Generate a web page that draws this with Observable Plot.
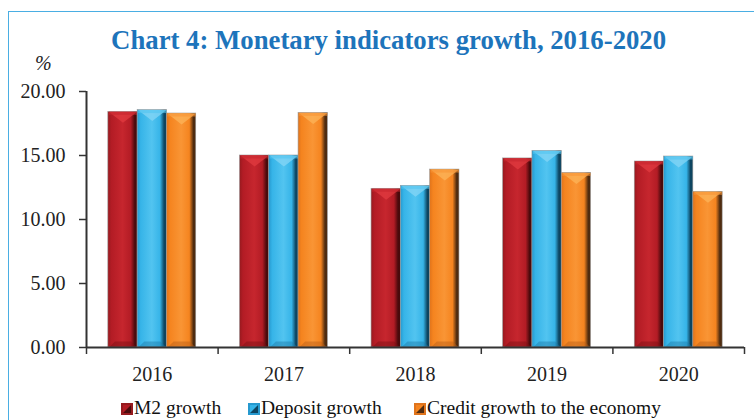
<!DOCTYPE html>
<html>
<head>
<meta charset="utf-8">
<script src="https://cdn.jsdelivr.net/npm/d3@7"></script>
<script src="https://cdn.jsdelivr.net/npm/@observablehq/plot@0.6"></script>
<style>
  html, body { margin: 0; padding: 0; background: #fff; }
  body { width: 754px; height: 420px; overflow: hidden; position: relative; font-family: "Liberation Serif", "Times New Roman", serif; }
  #frame { position: absolute; left: 8px; top: 11px; width: 800px; height: 500px; border-left: 1.5px solid #4aaee3; border-top: 1.5px solid #4aaee3; }
  #title { position: absolute; left: 0; top: 24px; width: 754px; padding-left: 24px; box-sizing: border-box; text-align: center; font-weight: bold; font-size: 28px; color: #1d74bb; white-space: nowrap; }
  #title span { display: inline-block; transform: scaleX(0.955); }
  #pct { position: absolute; left: 35px; top: 52px; font-style: italic; font-size: 20px; color: #222; }
  #chart { position: absolute; left: 0; top: 60px; }
  #legend { position: absolute; left: 0; top: 397px; width: 754px; font-size: 19.5px; color: #111; white-space: nowrap; }
  .item { position: absolute; top: 0; line-height: 22px; }
  .sw { display: inline-block; width: 12px; height: 12px; margin-right: 1px; vertical-align: -1px; }
</style>
</head>
<body>
<div id="frame"></div>
<div id="title"><span>Chart 4: Monetary indicators growth, 2016-2020</span></div>
<div id="pct">%</div>
<div id="chart"></div>
<div id="legend"></div>
<script>
// ---- data ----
const years = [2016, 2017, 2018, 2019, 2020];
const seriesNames = ["M2 growth", "Deposit growth", "Credit growth to the economy"];
const m2Growth = [18.41, 15.00, 12.40, 14.77, 14.53];
const depositGrowth = [18.55, 15.00, 12.63, 15.36, 14.92];
const creditGrowth = [18.28, 18.33, 13.90, 13.64, 12.16];
const yTicks = [0, 5, 10, 15, 20];

// ---- styles ----
const palette = [
  {left: "#961a1f", main: "#b31c25", hi: "#c6262e", dark: "#4a0a0c", top: "#e23b40", bot: "#7a1015"},
  {left: "#2699cf", main: "#36b4e8", hi: "#52c4f0", dark: "#0d4561", top: "#86d6f5", bot: "#1c7aa8"},
  {left: "#e0741c", main: "#f5841f", hi: "#f99535", dark: "#4f2c10", top: "#fcb45a", bot: "#b85e17"}
];

const valuesBySeries = [m2Growth, depositGrowth, creditGrowth];
const groupWidth = 0.668;
const barW = groupWidth / 3;
const rows = [];
years.forEach((yr, i) => {
  valuesBySeries.forEach((vals, j) => {
    const x1 = yr - groupWidth / 2 + j * barW;
    rows.push({year: yr, series: seriesNames[j], s: j, value: vals[i], x1, x2: x1 + barW, xc: x1 + barW / 2});
  });
});
const bounds = [...years.map(y => y - 0.5), years[years.length - 1] + 0.5];

const topBevel = {draw(ctx) { ctx.moveTo(-14.2, 0); ctx.lineTo(14.2, 0); ctx.lineTo(0, 11); ctx.closePath(); }};
const topRim = {draw(ctx) { ctx.moveTo(-14.2, 0); ctx.lineTo(14.2, 0); ctx.lineTo(14.2, 3); ctx.lineTo(-14.2, 3); ctx.closePath(); }};
const botBevel = {draw(ctx) { ctx.moveTo(-14.2, 0); ctx.lineTo(14.2, 0); ctx.lineTo(8, -6); ctx.lineTo(-8, -6); ctx.closePath(); }};

const marks = [];
palette.forEach((p, j) => {
  const data = rows.filter(d => d.s === j);
  marks.push(Plot.rectY(data, {x1: "x1", x2: "x2", y1: 0, y2: "value", fill: `url(#grad${j})`, stroke: "#9a9a9a", strokeWidth: 0.6}));
  marks.push(Plot.dot(data, {x: "xc", y: "value", symbol: topBevel, fill: p.top, fillOpacity: 0.75, stroke: "none"}));
  marks.push(Plot.dot(data, {x: "xc", y: "value", symbol: topRim, fill: p.hi, fillOpacity: 0.6, stroke: "none"}));
  marks.push(Plot.dot(data, {x: "xc", y: 0, symbol: botBevel, fill: p.bot, fillOpacity: 0.45, stroke: "none"}));
});

const svg = Plot.plot({
  width: 754,
  height: 335,
  marginLeft: 86,
  marginRight: 10,
  marginTop: 31,
  marginBottom: 48,
  style: {fontFamily: "'Liberation Serif', 'Times New Roman', serif", fontSize: "20px", color: "#222", background: "transparent", overflow: "visible"},
  x: {domain: [bounds[0], bounds[bounds.length - 1]]},
  y: {domain: [0, 20]},
  marks: [
    ...marks,
    Plot.ruleY([0], {stroke: "#333", strokeWidth: 2}),
    Plot.ruleX([bounds[0]], {stroke: "#333", strokeWidth: 2}),
    Plot.axisY({ticks: yTicks, tickSize: 7, tickPadding: 14, tickFormat: d3.format(".2f"), stroke: "#333", strokeWidth: 1.5, fill: "#222", label: null}),
    Plot.axisX({ticks: bounds, tickSize: 7, tickFormat: () => "", stroke: "#333", strokeWidth: 1.5, label: null}),
    Plot.axisX({ticks: years, tickSize: 0, tickPadding: 19, tickFormat: d => String(d), fill: "#222", label: null})
  ]
});

const defs = d3.select(svg).insert("defs", ":first-child");
palette.forEach((p, j) => {
  const g = defs.append("linearGradient").attr("id", `grad${j}`).attr("x1", "0%").attr("x2", "100%").attr("y1", "0%").attr("y2", "0%");
  [[0, p.left], [0.12, p.main], [0.5, p.hi], [0.78, p.main], [0.92, p.dark], [1, p.dark]].forEach(([o, c]) =>
    g.append("stop").attr("offset", o).attr("stop-color", c));
});
document.getElementById("chart").appendChild(svg);

// ---- legend ----
const legend = document.getElementById("legend");
const legendX = [121, 248, 414];
seriesNames.forEach((name, j) => {
  const p = palette[j];
  const it = document.createElement("div");
  it.className = "item";
  it.style.left = legendX[j] + "px";
  const sw = document.createElement("span");
  sw.className = "sw";
  sw.style.background = `linear-gradient(to bottom right, ${p.main} 0%, ${p.main} 48%, ${p.dark} 52%, ${p.dark} 100%)`;
  sw.style.boxShadow = `inset 0 0 0 2px ${p.left}`;
  it.appendChild(sw);
  it.appendChild(document.createTextNode(name));
  legend.appendChild(it);
});
</script>
</body>
</html>
